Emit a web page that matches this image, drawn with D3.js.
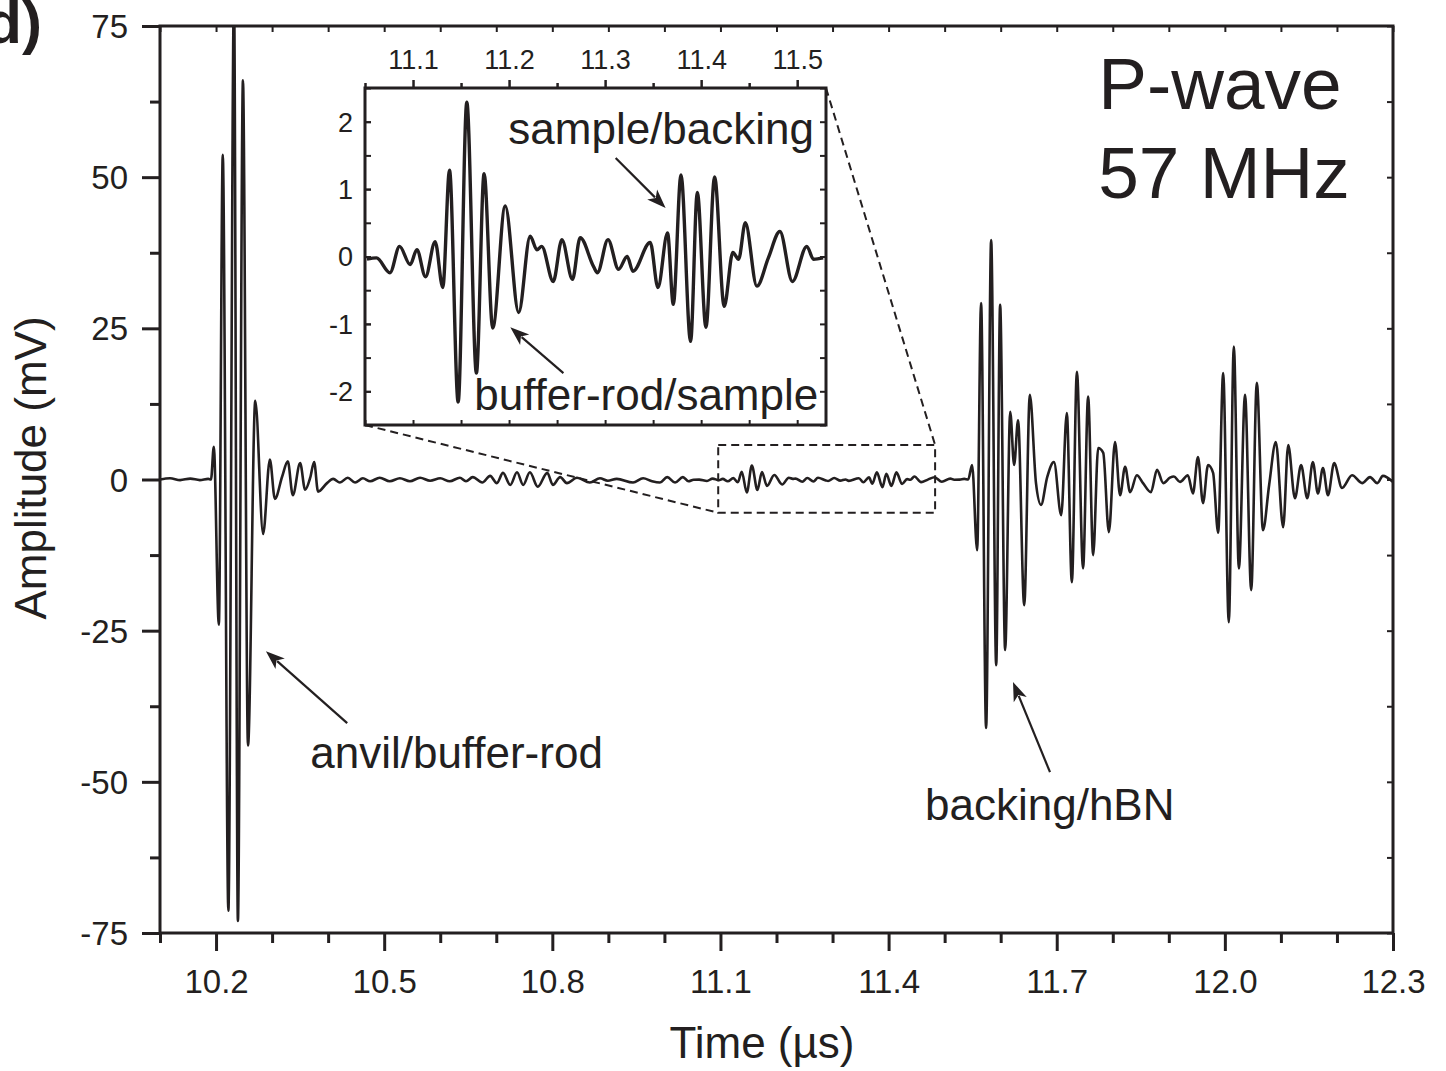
<!DOCTYPE html>
<html><head><meta charset="utf-8">
<script src="https://cdn.jsdelivr.net/npm/d3@7"></script>
<style>
body{margin:0;background:#fff;}
svg{display:block;font-family:"Liberation Sans",Arial,Helvetica,sans-serif;}
</style></head><body>
<svg id="chart" width="1446" height="1071"></svg>
<script>
// ---------------- DATA ----------------
// main axes
const timeDomain = [10.1, 12.3];
const ampDomain = [-75, 75];
const timeTicks = [10.2, 10.5, 10.8, 11.1, 11.4, 11.7, 12.0, 12.3];
const timeTickLabels = ["10.2", "10.5", "10.8", "11.1", "11.4", "11.7", "12.0", "12.3"];
const ampTicks = [75, 50, 25, 0, -25, -50, -75];
const ampTickLabels = ["75", "50", "25", "0", "-25", "-50", "-75"];

// inset axes
const insetTimeDomain = [11.05, 11.53];
const insetAmpDomain = [-2.5, 2.5];
const insetTimeTicks = [11.1, 11.2, 11.3, 11.4, 11.5];
const insetTimeTickLabels = ["11.1", "11.2", "11.3", "11.4", "11.5"];
const insetAmpTicks = [2, 1, 0, -1, -2];
const insetAmpTickLabels = ["2", "1", "0", "-1", "-2"];

// zoom window marked on the main trace [t0, t1, v0, v1]
const zoomWindow = [11.096, 11.483, -5.5, 5.7];

// trace segments: [time (µs), amplitude (mV)]
const traceLead = [[10.1,0],[10.118,0.2],[10.136,-0.1],[10.154,0.15],[10.171,-0.1],[10.186,0.1],[10.191,0]];
const anvilEcho = [[10.196,5.4],[10.205,-24],[10.212,53.7],[10.222,-71.3],[10.232,80],[10.239,-73],[10.248,66],
  [10.257,-44],[10.270,13],[10.284,-9],[10.296,3.3],[10.305,-3.2],[10.318,0.5],[10.328,3],[10.337,-2.6],
  [10.350,2.7],[10.359,-1.7],[10.368,0.3],[10.375,2.9],[10.382,-2]];
const quietTrace = [[10.398,-0.6],[10.409,0.1],[10.421,-0.5],[10.435,0.3],[10.448,-0.5],[10.462,0.2],[10.475,-0.3],
  [10.492,0.3],[10.510,-0.3],[10.528,0.2],[10.546,-0.3],[10.564,0.3],[10.582,-0.2],[10.600,0.2],[10.617,-0.3],
  [10.635,0.3],[10.646,-0.3],[10.658,0.4],[10.675,-0.5],[10.689,0.6],[10.701,-0.6],[10.712,1.1],[10.725,-0.9],
  [10.737,1.2],[10.748,-0.9],[10.760,1.2],[10.774,-1.2],[10.791,1.1],[10.801,-0.9],[10.814,0.4],[10.826,-0.6],
  [10.844,0.3],[10.867,-0.5],[10.885,0.2],[10.899,-0.2],[10.915,0.1],[10.944,-0.5],[10.962,0.2],[10.978,-0.3],
  [10.992,-0.5],[11.005,0.4],[11.019,-0.5],[11.033,0.4],[11.043,-0.3]];
const insetTrace = [[11.052,-0.04],[11.062,-0.02],[11.076,-0.24],[11.086,0.15],[11.097,-0.12],[11.104,0.10],
  [11.113,-0.30],[11.123,0.22],[11.131,-0.46],[11.138,1.28],[11.147,-2.16],[11.156,2.29],[11.166,-1.73],
  [11.174,1.23],[11.183,-1.06],[11.196,0.75],[11.210,-0.83],[11.222,0.30],[11.229,0.10],[11.234,0.15],
  [11.246,-0.37],[11.255,0.25],[11.266,-0.34],[11.274,0.28],[11.288,-0.15],[11.292,-0.24],[11.303,0.25],
  [11.314,-0.19],[11.323,0.0],[11.329,-0.22],[11.347,0.21],[11.355,-0.46],[11.365,0.35],[11.371,-0.71],
  [11.379,1.21],[11.389,-1.26],[11.396,0.95],[11.405,-1.05],[11.414,1.18],[11.424,-0.74],[11.433,0.06],
  [11.439,-0.04],[11.446,0.50],[11.458,-0.44],[11.470,-0.02],[11.482,0.37],[11.495,-0.37],[11.510,0.15],
  [11.517,-0.04],[11.527,-0.02]];
const backingEcho = [[11.535,0.1],[11.542,0],[11.549,2.4],[11.558,-11.7],[11.565,29.2],[11.574,-41.1],[11.583,39.6],
  [11.592,-30.7],[11.599,28.9],[11.608,-28.2],[11.617,11.2],[11.624,2.4],[11.631,9.8],[11.642,-20.8],
  [11.652,14.0],[11.663,-0.6],[11.672,-4.2],[11.683,0.4],[11.695,2.9],[11.708,-5.9],[11.718,11.0],
  [11.727,-17.0],[11.736,17.8],[11.747,-14.7],[11.756,13.7],[11.765,-12.5],[11.774,5.2],[11.783,4.4],
  [11.793,-8.7],[11.804,6.2],[11.813,-2.6],[11.822,2.1],[11.831,-2.1],[11.843,0.7],[11.854,-0.6],
  [11.868,-2.1],[11.879,1.6],[11.890,-0.6],[11.902,0.3]];
const secondEcho = [[11.909,0.5],[11.920,-0.4],[11.934,0.7],[11.943,-2.3],[11.952,3.7],[11.961,-3.9],[11.970,2.4],
  [11.979,1.1],[11.988,-8.8],[11.997,17.6],[12.007,-23.6],[12.016,22.0],[12.025,-14.7],[12.036,14.0],
  [12.047,-18.3],[12.057,16.0],[12.068,-8.4],[12.079,-0.9],[12.091,6.2],[12.104,-7.9],[12.113,5.7],
  [12.125,-3.1],[12.136,2.4],[12.147,-3.1],[12.157,2.9],[12.166,-2.3],[12.175,1.9],[12.184,-2.6],
  [12.195,2.7],[12.209,-1.4],[12.227,0.7],[12.245,-0.6],[12.259,0.4],[12.272,-0.6],[12.282,0.6],[12.300,-0.4]];

// annotations (data coordinates)
const mainNotes = [
  {text:"anvil/buffer-rod", t:10.368, v:-47.7, tail:[10.434,-40.3], tip:[10.289,-28.4]},
  {text:"backing/hBN", t:11.465, v:-56.3, tail:[11.688,-48.4], tip:[11.622,-33.5]}
];
const insetNotes = [
  {text:"sample/backing", t:11.1992, v:1.67, tail:[11.311,1.46], tip:[11.363,0.72]},
  {text:"buffer-rod/sample", t:11.1637, v:-2.28, tail:[11.2566,-1.73], tip:[11.2013,-1.05]}
];
const titleLines = ["P-wave", "57 MHz"];

// ---------------- DRAW ----------------
const ink = "#231f20";
const svg = d3.select("#chart");
const box = {left:160, right:1393, top:26, bottom:933};
const x = d3.scaleLinear().domain(timeDomain).range([box.left, box.right]);
const y = d3.scaleLinear().domain(ampDomain).range([box.bottom, box.top]);

const fullTrace = [].concat(traceLead, anvilEcho, quietTrace, insetTrace, backingEcho, secondEcho);

const defs = svg.append("defs");
defs.append("clipPath").attr("id","clipMain").append("rect")
  .attr("x", box.left).attr("y", box.top).attr("width", box.right-box.left).attr("height", box.bottom-box.top);

const line = d3.line().x(d=>x(d[0])).y(d=>y(d[1])).curve(d3.curveMonotoneX);

// inset geometry
const ibox = {left:365, right:826, top:88, bottom:425};
const ix = d3.scaleLinear().domain(insetTimeDomain).range([ibox.left, ibox.right]);
const iy = d3.scaleLinear().domain(insetAmpDomain).range([ibox.bottom, ibox.top]);

// dashed zoom window + connectors
const zx0 = x(zoomWindow[0]), zx1 = x(zoomWindow[1]), zyLo = y(zoomWindow[2]), zyHi = y(zoomWindow[3]);
const dashG = svg.append("g").attr("fill","none").attr("stroke",ink).attr("stroke-width",2).attr("stroke-dasharray","8,5");
dashG.append("rect").attr("x",zx0).attr("y",zyHi).attr("width",zx1-zx0).attr("height",zyLo-zyHi);
dashG.append("line").attr("x1",ibox.left).attr("y1",ibox.bottom).attr("x2",zx0).attr("y2",zyLo);
dashG.append("line").attr("x1",ibox.right).attr("y1",ibox.top).attr("x2",zx1).attr("y2",zyHi);

// main trace
svg.append("path").datum(fullTrace).attr("clip-path","url(#clipMain)")
  .attr("fill","none").attr("stroke",ink).attr("stroke-width",2.6).attr("stroke-linejoin","round")
  .attr("d", line);

// main frame
svg.append("rect").attr("x",box.left).attr("y",box.top).attr("width",box.right-box.left).attr("height",box.bottom-box.top)
  .attr("fill","none").attr("stroke",ink).attr("stroke-width",3);

function styleAxis(g){
  g.select(".domain").remove();
  g.selectAll("line").attr("stroke",ink).attr("stroke-width",3);
  g.selectAll("text").attr("fill",ink);
}
const rnd = v => Math.round(v*1000)/1000;
const timeMinor = d3.range(10.1, 12.31, 0.1).map(rnd).filter(v=>!timeTicks.some(t=>Math.abs(t-v)<1e-6));
const ampMinor = d3.range(-62.5, 75, 25);
const timeAll = d3.range(10.1, 12.31, 0.1).map(rnd);
const ampAll = d3.range(-75, 75.1, 12.5);

// bottom axis
const gB = svg.append("g").attr("transform",`translate(0,${box.bottom})`)
  .call(d3.axisBottom(x).tickValues(timeTicks).tickSize(18).tickFormat((d,i)=>timeTickLabels[i]));
gB.selectAll("text").attr("y",60).attr("dy",null).attr("font-size",33);
styleAxis(gB);
const gBm = svg.append("g").attr("transform",`translate(0,${box.bottom})`)
  .call(d3.axisBottom(x).tickValues(timeMinor).tickSize(10).tickFormat(""));
styleAxis(gBm);

// left axis
const gL = svg.append("g").attr("transform",`translate(${box.left},0)`)
  .call(d3.axisLeft(y).tickValues(ampTicks).tickSize(18).tickFormat((d,i)=>ampTickLabels[i]));
gL.selectAll("text").attr("x",-32).attr("dy","0.35em").attr("font-size",33);
styleAxis(gL);
const gLm = svg.append("g").attr("transform",`translate(${box.left},0)`)
  .call(d3.axisLeft(y).tickValues(ampMinor).tickSize(10).tickFormat(""));
styleAxis(gLm);

// top & right mirrored inward ticks
const gT = svg.append("g").attr("transform",`translate(0,${box.top})`)
  .call(d3.axisTop(x).tickValues(timeAll).tickSize(-6).tickFormat(""));
styleAxis(gT); gT.selectAll("line").attr("stroke-width",2);
const gR = svg.append("g").attr("transform",`translate(${box.right},0)`)
  .call(d3.axisRight(y).tickValues(ampAll).tickSize(-6).tickFormat(""));
styleAxis(gR); gR.selectAll("line").attr("stroke-width",2);

// axis titles
svg.append("text").attr("x",762).attr("y",1058).attr("text-anchor","middle")
  .attr("font-size",44).attr("fill",ink).text("Time (µs)");
svg.append("text").attr("transform","translate(46,468) rotate(-90)").attr("text-anchor","middle")
  .attr("font-size",44).attr("fill",ink).text("Amplitude (mV)");

// panel label (partly cropped at the left edge, as in the original figure)
svg.append("text").attr("x",42).attr("y",43).attr("text-anchor","end").attr("font-weight","bold")
  .attr("font-size",60).attr("fill",ink).text("d)");

// title
svg.append("text").attr("x",x(11.774)).attr("y",y(61.27)).attr("font-size",73).attr("fill",ink).text(titleLines[0]);
svg.append("text").attr("x",x(11.774)).attr("y",y(46.55)).attr("font-size",73).attr("fill",ink).text(titleLines[1]);

// arrows
function arrow(g, x1, y1, x2, y2){
  const ang = Math.atan2(y2-y1, x2-x1);
  const L = 19, Wd = 7;
  const bx = x2 - L*Math.cos(ang), by = y2 - L*Math.sin(ang);
  g.append("line").attr("x1",x1).attr("y1",y1).attr("x2",bx+4*Math.cos(ang)).attr("y2",by+4*Math.sin(ang))
    .attr("stroke",ink).attr("stroke-width",2.2);
  const px = -Math.sin(ang), py = Math.cos(ang);
  g.append("path").attr("fill",ink)
    .attr("d",`M${x2},${y2}L${bx+Wd*px},${by+Wd*py}L${bx+5*Math.cos(ang)},${by+5*Math.sin(ang)}L${bx-Wd*px},${by-Wd*py}Z`);
}
const annG = svg.append("g");
mainNotes.forEach(n=>{
  annG.append("text").attr("x",x(n.t)).attr("y",y(n.v)).attr("font-size",44).attr("fill",ink).text(n.text);
  arrow(annG, x(n.tail[0]), y(n.tail[1]), x(n.tip[0]), y(n.tip[1]));
});

// ---------------- INSET ----------------
defs.append("clipPath").attr("id","clipInset").append("rect")
  .attr("x", ibox.left).attr("y", ibox.top).attr("width", ibox.right-ibox.left).attr("height", ibox.bottom-ibox.top);
svg.append("rect").attr("x",ibox.left).attr("y",ibox.top).attr("width",ibox.right-ibox.left).attr("height",ibox.bottom-ibox.top)
  .attr("fill","#fff");
const iline = d3.line().x(d=>ix(d[0])).y(d=>iy(d[1])).curve(d3.curveMonotoneX);
svg.append("path").datum(insetTrace).attr("clip-path","url(#clipInset)")
  .attr("fill","none").attr("stroke",ink).attr("stroke-width",3.4).attr("stroke-linejoin","round")
  .attr("d", iline);
svg.append("rect").attr("x",ibox.left).attr("y",ibox.top).attr("width",ibox.right-ibox.left).attr("height",ibox.bottom-ibox.top)
  .attr("fill","none").attr("stroke",ink).attr("stroke-width",3);

const insetTimeMinor = [11.05, 11.15, 11.25, 11.35, 11.45];
const insetAmpAll = d3.range(-2.5, 2.51, 0.5).map(rnd);
const gIT = svg.append("g").attr("transform",`translate(0,${ibox.top})`)
  .call(d3.axisTop(ix).tickValues(insetTimeTicks).tickSize(8).tickFormat((d,i)=>insetTimeTickLabels[i]));
gIT.selectAll("text").attr("y",-19).attr("dy",null).attr("font-size",27);
styleAxis(gIT); gIT.selectAll("line").attr("stroke-width",2.5);
const gITm = svg.append("g").attr("transform",`translate(0,${ibox.top})`)
  .call(d3.axisTop(ix).tickValues(insetTimeMinor).tickSize(5).tickFormat(""));
styleAxis(gITm); gITm.selectAll("line").attr("stroke-width",2.5);
const gIB = svg.append("g").attr("transform",`translate(0,${ibox.bottom})`)
  .call(d3.axisBottom(ix).tickValues(insetTimeTicks.concat(insetTimeMinor)).tickSize(-5).tickFormat(""));
styleAxis(gIB); gIB.selectAll("line").attr("stroke-width",2);

const gIL = svg.append("g").attr("transform",`translate(${ibox.left},0)`)
  .call(d3.axisLeft(iy).tickValues(insetAmpTicks).tickSize(-6).tickFormat((d,i)=>insetAmpTickLabels[i]));
gIL.selectAll("text").attr("x",-12).attr("dy","0.35em").attr("font-size",27);
styleAxis(gIL); gIL.selectAll("line").attr("stroke-width",2);
const gILm = svg.append("g").attr("transform",`translate(${ibox.left},0)`)
  .call(d3.axisLeft(iy).tickValues(insetAmpAll).tickSize(-6).tickFormat(""));
styleAxis(gILm); gILm.selectAll("line").attr("stroke-width",2);
const gIR = svg.append("g").attr("transform",`translate(${ibox.right},0)`)
  .call(d3.axisRight(iy).tickValues(insetAmpAll).tickSize(-6).tickFormat(""));
styleAxis(gIR); gIR.selectAll("line").attr("stroke-width",2);

insetNotes.forEach(n=>{
  annG.append("text").attr("x",ix(n.t)).attr("y",iy(n.v)).attr("font-size",44).attr("fill",ink).text(n.text);
  arrow(annG, ix(n.tail[0]), iy(n.tail[1]), ix(n.tip[0]), iy(n.tip[1]));
});
svg.node().appendChild(annG.node());
</script>
</body></html>
